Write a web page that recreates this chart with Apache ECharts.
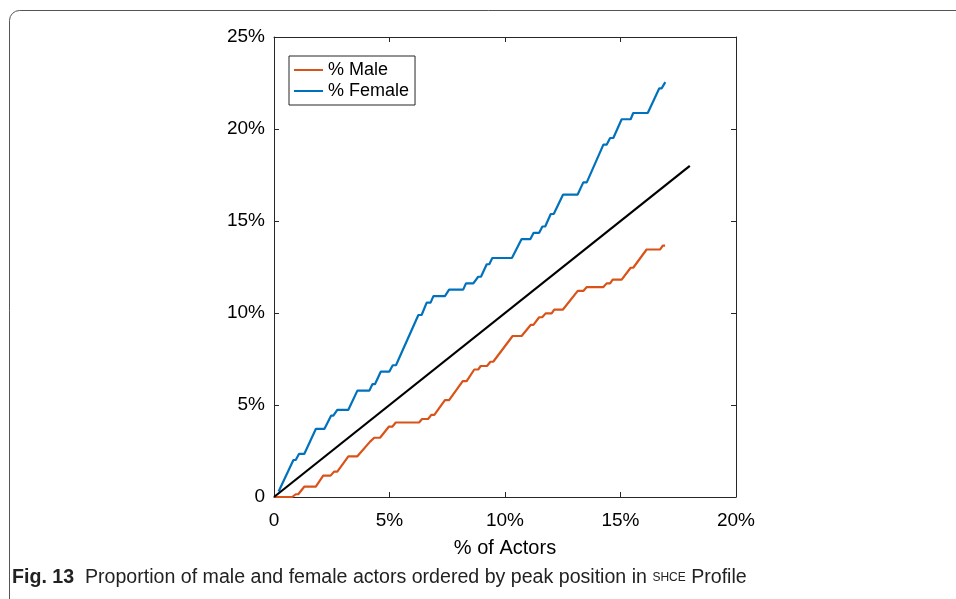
<!DOCTYPE html>
<html>
<head>
<meta charset="utf-8">
<script src="https://cdn.jsdelivr.net/npm/echarts@6/dist/echarts.min.js"></script>
<style>
  html, body { margin: 0; padding: 0; background: #fff; }
  #chart { width: 956px; height: 599px; }
</style>
</head>
<body>
<div id="chart"></div>
<script>
// % of actors (x) vs % of male / female actors (y)
const maleX = [0, 0.79, 0.94, 1.05, 1.31, 1.81, 2.13, 2.45, 2.60, 2.74, 3.22, 3.61, 4.16, 4.34, 4.59, 4.97, 5.12, 5.27, 6.28, 6.41, 6.67, 6.81, 6.94, 7.40, 7.58, 8.17, 8.34, 8.67, 8.84, 8.95, 9.22, 9.37, 9.49, 10.33, 10.72, 11.11, 11.23, 11.48, 11.61, 11.76, 12.02, 12.13, 12.50, 13.15, 13.39, 13.54, 14.26, 14.40, 14.55, 14.66, 15.05, 15.44, 15.55, 16.13, 16.71, 16.83, 16.93];
const maleY = [0, 0, 0.15, 0.15, 0.56, 0.56, 1.16, 1.16, 1.38, 1.38, 2.21, 2.21, 3.01, 3.22, 3.22, 3.82, 3.82, 4.05, 4.05, 4.24, 4.24, 4.46, 4.46, 5.27, 5.27, 6.30, 6.30, 6.93, 6.93, 7.12, 7.12, 7.35, 7.35, 8.75, 8.75, 9.35, 9.35, 9.77, 9.77, 9.98, 9.98, 10.18, 10.18, 11.20, 11.20, 11.41, 11.41, 11.61, 11.61, 11.81, 11.81, 12.46, 12.46, 13.45, 13.45, 13.66, 13.66];

const femaleX = [0.2, 0.84, 0.94, 1.08, 1.31, 1.81, 2.18, 2.47, 2.57, 2.74, 3.22, 3.61, 4.13, 4.26, 4.37, 4.62, 4.99, 5.14, 5.28, 6.25, 6.39, 6.61, 6.78, 6.90, 7.40, 7.58, 8.19, 8.31, 8.63, 8.84, 8.96, 9.21, 9.32, 9.45, 10.30, 10.72, 11.10, 11.24, 11.48, 11.62, 11.74, 11.98, 12.11, 12.51, 13.14, 13.39, 13.54, 14.26, 14.40, 14.55, 14.69, 15.05, 15.44, 15.55, 16.18, 16.68, 16.78, 16.94];
const femaleY = [0.3, 2.01, 2.01, 2.34, 2.34, 3.70, 3.70, 4.42, 4.42, 4.74, 4.74, 5.78, 5.78, 6.13, 6.13, 6.81, 6.81, 7.16, 7.16, 9.89, 9.89, 10.56, 10.56, 10.92, 10.92, 11.27, 11.27, 11.61, 11.61, 11.97, 11.97, 12.65, 12.65, 12.99, 12.99, 14.02, 14.02, 14.36, 14.36, 14.70, 14.70, 15.38, 15.38, 16.43, 16.43, 17.10, 17.10, 19.15, 19.15, 19.51, 19.51, 20.53, 20.53, 20.87, 20.87, 22.21, 22.21, 22.55];

const diagX = [0, 18];
const diagY = [0, 18];

const zip = (xs, ys) => xs.map((x, i) => [x, ys[i]]);
const pct = v => (v === 0 ? '0' : v + '%');

const axisColor = '#262626';
const font = 'Liberation Sans, Arial, Helvetica, sans-serif';

// one frame side: line + inward ticks, no onZero so top/right stay on the box
function frameAxis(extra) {
  return Object.assign({
    type: 'value',
    axisLine: { show: true, onZero: false, lineStyle: { color: axisColor, width: 1 } },
    axisTick: { show: true, inside: true, length: 5, lineStyle: { color: axisColor } },
    splitLine: { show: false }
  }, extra);
}

let myChart = echarts.init(document.getElementById('chart'));
myChart.setOption({
  animation: false,
  backgroundColor: '#fff',
  grid: { left: 274, top: 37, width: 462, height: 460 },
  legend: {
    left: 289, top: 56,
    orient: 'vertical',
    data: ['% Male', '% Female'],
    icon: 'rect',
    itemWidth: 29, itemHeight: 2,
    itemGap: 3,
    padding: [5, 6, 5, 5],
    borderColor: axisColor, borderWidth: 1,
    backgroundColor: '#fff',
    textStyle: { fontFamily: font, fontSize: 18, color: '#000' }
  },
  xAxis: [
    frameAxis({
      min: 0, max: 20, interval: 5,
      name: '% of Actors', nameLocation: 'middle', nameGap: 41,
      nameTextStyle: { fontFamily: font, fontSize: 20, color: '#000' },
      axisLabel: { formatter: pct, fontFamily: font, fontSize: 19, color: '#000', margin: 14 }
    }),
    frameAxis({ min: 0, max: 20, interval: 5, position: 'top', axisLabel: { show: false } })
  ],
  yAxis: [
    frameAxis({
      min: 0, max: 25, interval: 5,
      axisLabel: { formatter: pct, fontFamily: font, fontSize: 19, color: '#000', margin: 9 }
    }),
    frameAxis({ min: 0, max: 25, interval: 5, position: 'right', axisLabel: { show: false } })
  ],
  series: [
    {
      name: '% Male', type: 'line', data: zip(maleX, maleY),
      showSymbol: false, color: '#D95319',
      lineStyle: { width: 2.2, color: '#D95319' }
    },
    {
      name: '% Female', type: 'line', data: zip(femaleX, femaleY),
      showSymbol: false, color: '#0072BD',
      lineStyle: { width: 2.2, color: '#0072BD' }
    },
    {
      name: 'diag', type: 'line', data: zip(diagX, diagY),
      showSymbol: false, color: '#000',
      lineStyle: { width: 2.2, color: '#000' }
    }
  ],
  graphic: [
    {
      type: 'rect', silent: true, z: -1,
      shape: { x: 9.5, y: 10.5, width: 1000, height: 600, r: 10 },
      style: { fill: 'none', stroke: '#555', lineWidth: 1 }
    },
    {
      type: 'text', left: 12, top: 568,
      style: {
        text: '{b|Fig. 13}  Proportion of male and female actors ordered by peak position in {s|SHCE} Profile',
        font: '19.6px "Liberation Sans", sans-serif',
        fill: '#222',
        rich: {
          b: { fontFamily: 'Liberation Sans, sans-serif', fontSize: 19.6, fontWeight: 'bold', fill: '#222' },
          s: { fontFamily: 'Liberation Sans, sans-serif', fontSize: 12, fill: '#222' }
        }
      }
    }
  ]
});
</script>
</body>
</html>
